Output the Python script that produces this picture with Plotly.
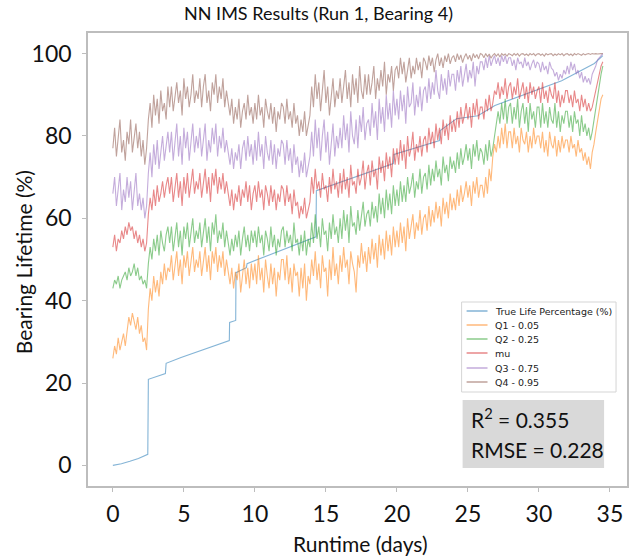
import plotly.graph_objects as go

# ---------------- data ----------------
# sampling grid of the prediction series (days)
days = [i * 0.125 for i in range(277)]  # 0 .. 34.5

q1_005 = [
    26, 29, 27, 31, 28, 30, 32, 29, 33, 36, 34, 37, 35, 33, 36, 32,
    34, 30, 31, 28, 38, 43, 40, 46, 42, 45, 41, 47, 44, 49, 45, 48,
    47, 51, 45, 49, 52, 46, 50, 44, 51, 48, 52, 46, 49, 53, 47, 50,
    48, 52, 46, 50, 53, 47, 51, 45, 52, 49, 53, 47, 51, 48, 52, 46,
    50, 47, 44, 48, 43, 47, 45, 49, 42, 46, 50, 44, 48, 43, 49, 45,
    49, 44, 51, 45, 48, 42, 50, 46, 43, 49, 44, 48, 41, 47, 45, 50,
    50, 45, 51, 44, 48, 42, 49, 46, 47, 41, 48, 43, 49, 40, 46, 44,
    50, 46, 52, 45, 49, 43, 51, 47, 48, 41, 50, 45, 53, 46, 49, 44,
    51, 47, 53, 48, 50, 44, 52, 49, 47, 42, 51, 48, 54, 49, 52, 47,
    53, 49, 55, 50, 54, 48, 56, 51, 55, 50, 57, 52, 56, 51, 58, 53,
    57, 53, 59, 54, 58, 52, 60, 55, 58, 61, 55, 59, 57, 62, 56, 60,
    61, 57, 63, 58, 62, 59, 64, 60, 63, 58, 65, 61, 64, 60, 66, 62,
    65, 62, 67, 63, 68, 64, 66, 69, 65, 68, 63, 69, 66, 70, 65, 68,
    68, 65, 70, 66, 72, 69, 75, 78, 76, 80, 77, 82, 78, 83, 77, 81,
    81, 77, 82, 78, 80, 76, 82, 79, 78, 81, 76, 80, 77, 82, 78, 80,
    80, 77, 81, 76, 79, 75, 81, 78, 77, 80, 75, 79, 76, 80, 77, 79,
    79, 76, 80, 77, 78, 75, 79, 76, 77, 74, 76, 73, 75, 72, 76, 78,
    81, 84, 87, 89, 90,
]

q2_025 = [
    43, 45, 44, 46, 43, 45, 46, 47, 45, 48, 46, 47, 49, 46, 48, 45,
    46, 44, 45, 43, 49, 53, 50, 55, 52, 56, 51, 57, 54, 52, 56, 58,
    54, 58, 52, 56, 59, 53, 57, 51, 58, 55, 59, 53, 56, 60, 54, 57,
    55, 59, 53, 57, 60, 54, 58, 52, 59, 56, 61, 54, 57, 55, 59, 53,
    57, 54, 51, 55, 52, 56, 53, 57, 51, 55, 58, 53, 56, 52, 57, 54,
    57, 53, 58, 54, 56, 51, 57, 55, 52, 58, 53, 56, 51, 55, 53, 57,
    58, 53, 57, 54, 56, 52, 59, 54, 55, 51, 56, 52, 57, 51, 55, 53,
    59, 54, 61, 55, 58, 53, 60, 56, 57, 52, 59, 55, 61, 56, 58, 54,
    60, 55, 62, 57, 61, 54, 63, 58, 59, 56, 62, 57, 60, 64, 58, 61,
    62, 58, 64, 60, 63, 59, 66, 61, 65, 60, 67, 62, 66, 61, 68, 63,
    67, 63, 69, 64, 68, 64, 70, 66, 68, 71, 65, 69, 67, 72, 66, 70,
    71, 67, 73, 68, 72, 69, 74, 70, 72, 68, 75, 71, 73, 69, 75, 72,
    74, 71, 76, 72, 77, 73, 75, 78, 74, 77, 72, 78, 75, 79, 74, 77,
    76, 73, 78, 74, 79, 75, 77, 80, 82, 86, 83, 88, 84, 89, 83, 87,
    88, 83, 87, 84, 89, 82, 86, 88, 83, 87, 81, 88, 84, 86, 82, 87,
    87, 82, 88, 83, 86, 82, 87, 84, 83, 88, 82, 86, 81, 85, 83, 86,
    86, 82, 85, 81, 86, 83, 84, 80, 85, 81, 83, 80, 82, 79, 81, 84,
    87, 90, 93, 95, 97,
]

mu = [
    53, 56, 52, 55, 54, 57, 55, 58, 56, 59, 57, 58, 55, 57, 54, 56,
    53, 55, 52, 54, 61, 65, 62, 67, 63, 68, 64, 66, 69, 65, 68, 70,
    66, 70, 64, 68, 71, 65, 69, 63, 70, 66, 71, 65, 68, 72, 66, 69,
    67, 71, 65, 69, 72, 66, 70, 64, 71, 68, 72, 66, 70, 67, 71, 66,
    69, 66, 63, 67, 62, 66, 64, 68, 63, 67, 65, 69, 64, 68, 62, 66,
    68, 64, 69, 65, 67, 62, 68, 66, 63, 68, 64, 67, 62, 66, 64, 68,
    67, 63, 68, 64, 66, 61, 67, 63, 64, 60, 63, 61, 65, 60, 62, 64,
    70, 66, 72, 67, 69, 65, 71, 67, 68, 64, 70, 66, 72, 67, 69, 65,
    71, 66, 72, 67, 70, 65, 73, 68, 69, 66, 72, 68, 70, 74, 67, 71,
    73, 68, 74, 70, 72, 67, 75, 71, 74, 69, 76, 72, 75, 70, 77, 73,
    77, 73, 79, 74, 78, 72, 80, 75, 77, 81, 74, 78, 76, 80, 75, 79,
    80, 76, 82, 78, 81, 77, 83, 79, 82, 78, 84, 80, 83, 79, 85, 81,
    84, 81, 86, 82, 87, 83, 85, 88, 84, 87, 82, 88, 85, 89, 84, 87,
    87, 84, 89, 86, 90, 86, 88, 91, 90, 93, 89, 92, 90, 94, 89, 92,
    93, 89, 92, 90, 94, 89, 91, 93, 89, 92, 88, 93, 90, 92, 89, 91,
    92, 88, 93, 89, 91, 88, 92, 90, 89, 93, 88, 91, 87, 90, 88, 91,
    91, 88, 90, 87, 91, 88, 89, 86, 90, 87, 89, 86, 88, 86, 87, 89,
    91, 93, 95, 97, 98,
]

q3_075 = [
    66, 70, 63, 68, 71, 62, 67, 64, 70, 65, 69, 62, 67, 71, 63, 66,
    62, 65, 60, 63, 71, 76, 70, 78, 73, 79, 72, 77, 80, 74, 78, 81,
    76, 81, 74, 79, 83, 75, 80, 73, 82, 77, 81, 74, 79, 83, 76, 80,
    77, 82, 75, 80, 83, 74, 79, 76, 82, 78, 83, 75, 80, 77, 82, 76,
    79, 76, 73, 77, 72, 76, 74, 78, 72, 77, 79, 74, 80, 75, 78, 73,
    79, 74, 81, 75, 78, 72, 80, 76, 74, 79, 73, 78, 72, 77, 75, 79,
    78, 73, 79, 74, 77, 71, 78, 73, 75, 70, 74, 71, 76, 70, 73, 75,
    81, 75, 84, 77, 82, 74, 80, 84, 76, 81, 73, 79, 83, 75, 80, 77,
    82, 77, 85, 79, 83, 76, 86, 80, 78, 84, 77, 85, 81, 87, 79, 83,
    84, 80, 88, 82, 86, 79, 89, 83, 87, 81, 90, 84, 88, 82, 91, 85,
    89, 84, 91, 86, 90, 83, 92, 87, 88, 93, 85, 90, 87, 92, 86, 91,
    92, 88, 94, 89, 93, 90, 96, 91, 89, 95, 91, 94, 90, 96, 92, 95,
    95, 91, 96, 93, 97, 92, 95, 97.5, 93, 96, 94, 98, 92, 97, 95, 98,
    98, 96, 99, 96.5, 99.5, 97, 98.5, 99.5, 97.5, 99, 97, 99.5, 98, 99.5, 97.5, 99,
    99, 97, 98.5, 96, 99, 97.5, 98, 96.5, 99, 97, 98, 96, 97.5, 98.5, 96.5, 98,
    97.5, 95.5, 98, 96, 97, 95, 98, 96.5, 96, 94.5, 95.5, 93.5, 95, 94, 96, 95,
    97, 95, 98, 96, 97.5, 95, 96, 94, 95.5, 93, 94.5, 93, 94, 92.5, 95, 96,
    97, 98.5, 99, 99.5, 100,
]

q4_095 = [
    77, 82, 75, 80, 84, 76, 79, 74, 81, 78, 84, 76, 80, 83, 77, 81,
    75, 79, 73, 77, 84, 88, 82, 90, 85, 89, 83, 91, 86, 88, 84, 92,
    87, 92, 86, 90, 93, 88, 91, 85, 94, 89, 92, 87, 90, 95, 88, 91,
    89, 94, 87, 92, 95, 88, 91, 86, 93, 90, 95, 88, 92, 89, 94, 87,
    91, 88, 85, 89, 83, 87, 84, 89, 82, 86, 88, 84, 90, 85, 87, 83,
    88, 84, 90, 85, 87, 82, 89, 86, 84, 88, 83, 87, 81, 86, 84, 88,
    87, 83, 89, 84, 86, 82, 88, 83, 85, 80, 84, 81, 86, 80, 83, 85,
    92, 87, 95, 89, 93, 86, 91, 96, 88, 92, 85, 90, 94, 87, 91, 89,
    94, 88, 92, 96, 89, 93, 87, 95, 90, 94, 88, 97, 91, 89, 95, 90,
    95, 90, 93, 97, 89, 94, 91, 96, 92, 98, 90, 95, 93, 97, 91, 96,
    97, 94, 99, 95, 98, 93, 96, 99, 94, 97, 95, 99, 96, 98, 94, 99,
    98, 96, 99.5, 97, 99, 95.5, 98.5, 100, 97, 99, 96.5, 99.5, 98, 100, 97.5, 99,
    99.5, 98, 100, 98.5, 99.7, 97.8, 99.2, 100, 98.6, 99.6, 98.2, 100, 99, 99.8, 98.7, 100,
    99.8, 99, 100, 99.3, 99.9, 98.9, 99.6, 100, 99.4, 99.9, 99.2, 100, 99.6, 99.9, 99.4, 100,
    99.8, 99.5, 100, 99.6, 100, 99.4, 99.9, 100, 99.6, 99.9, 99.5, 100, 99.7, 100, 99.5, 99.9,
    100, 99.6, 99.9, 99.4, 100, 99.7, 99.9, 100, 99.5, 99.9, 99.6, 100, 99.7, 100, 99.5, 99.9,
    100, 99.6, 99.9, 99.5, 100, 99.7, 100, 99.8, 99.6, 100, 99.7, 99.9, 100, 99.8, 100, 99.9,
    100, 99.9, 100, 100, 100,
]

true_days = [0, 0.6, 1.2, 1.8, 2.46, 2.5, 3.7, 3.75, 4.8, 8.2, 8.22, 8.65,
             8.67, 9.4, 9.45, 14.3, 14.33, 19.75, 19.8, 23.0, 23.05, 24.2,
             25.7, 26.9, 31.6, 33.9, 34.5]
true_life = [0, 0.4, 1.0, 1.7, 2.7, 20.9, 22.3, 24.8, 26.2, 30.3, 34.7, 35.2,
             46.8, 48.0, 49.0, 55.5, 66.7, 73.3, 75.5, 78.9, 81.3, 84.2,
             84.9, 87.4, 93.4, 97.6, 99.5]

series = [
    ("True Life Percentage (%)", true_days, true_life, "rgba(31,119,180,0.55)"),
    ("Q1 - 0.05", days, q1_005, "rgba(255,127,14,0.55)"),
    ("Q2 - 0.25", days, q2_025, "rgba(44,160,44,0.55)"),
    ("mu", days, mu, "rgba(214,39,40,0.55)"),
    ("Q3 - 0.75", days, q3_075, "rgba(148,103,189,0.55)"),
    ("Q4 - 0.95", days, q4_095, "rgba(140,86,75,0.55)"),
]

x_ticks = [0, 5, 10, 15, 20, 25, 30, 35]
y_ticks = [0, 20, 40, 60, 80, 100]

r2_value = "0.355"
rmse_value = "0.228"

# ---------------- figure ----------------
FONT = "Lato"
L, R, T, B = 88, 629, 33, 486          # plot area in pixels
PW, PH = R - L, B - T


def px(xp):
    return (xp - L) / PW


def py(yp):
    return (B - yp) / PH


fig = go.Figure()
for name, xs, ys, col in series:
    fig.add_trace(go.Scatter(x=xs, y=ys, mode="lines", name=name,
                             line=dict(color=col, width=1.1)))

fig.update_layout(
    width=637, height=558,
    margin=dict(l=L, r=637 - R, t=T, b=558 - B),
    paper_bgcolor="white", plot_bgcolor="white",
    showlegend=False,
    title=dict(text="NN IMS Results (Run 1, Bearing 4)", x=0.5, xanchor="center",
               y=1 - 14 / 558, yanchor="middle",
               font=dict(family=FONT, size=18, color="#111111")),
    font=dict(family=FONT, color="#111111"),
)

fig.update_xaxes(range=[-1.75, 36.2], tickvals=x_ticks, ticktext=[str(t) for t in x_ticks],
                 showgrid=False, zeroline=False, showline=True, mirror=True,
                 linecolor="#bdbdbd", linewidth=1.5, ticks="outside", ticklen=4,
                 tickcolor="#bdbdbd", tickfont=dict(family=FONT, size=23, color="#111111"),
                 ticklabelstandoff=3)
fig.update_yaxes(range=[-5, 105], tickvals=y_ticks, ticktext=[str(t) for t in y_ticks],
                 showgrid=False, zeroline=False, showline=True, mirror=True,
                 linecolor="#bdbdbd", linewidth=1.5, ticks="outside", ticklen=4,
                 tickcolor="#bdbdbd", tickfont=dict(family=FONT, size=23, color="#111111"),
                 ticklabelstandoff=6)

# axis titles
fig.add_annotation(text="Runtime (days)", xref="paper", yref="paper",
                   x=px(362), y=py(543), showarrow=False,
                   xanchor="center", yanchor="middle",
                   font=dict(family=FONT, size=21, color="#111111"))
fig.add_annotation(text="Bearing Lifetime (%)", xref="paper", yref="paper",
                   x=px(23), y=py(262), showarrow=False,
                   textangle=-90, xanchor="center", yanchor="middle",
                   font=dict(family=FONT, size=21, color="#111111"))

# legend (drawn as a small box of line samples and labels)
fig.add_shape(type="rect", xref="paper", yref="paper",
              x0=px(463), x1=px(618), y0=py(392), y1=py(302),
              fillcolor="white", line=dict(color="#d5d5d5", width=1), layer="above")
leg_y = [311, 325, 339, 353, 368, 382]
for (name, _, _, col), yy in zip(series, leg_y):
    fig.add_shape(type="line", xref="paper", yref="paper",
                  x0=px(468), x1=px(489), y0=py(yy), y1=py(yy),
                  line=dict(color=col, width=1.5), layer="above")
    fig.add_annotation(text=name, xref="paper", yref="paper",
                       x=px(495), y=py(yy), showarrow=False,
                       xanchor="left", yanchor="middle",
                       font=dict(family="DejaVu Sans", size=9.5, color="#222222"))

# metrics box
fig.add_shape(type="rect", xref="paper", yref="paper",
              x0=px(464), x1=px(606), y0=py(468), y1=py(400),
              fillcolor="#d9d9d9", line=dict(width=0), layer="above")
fig.add_annotation(text=f"R<sup>2</sup> = {r2_value}", xref="paper", yref="paper",
                   x=px(470), y=py(418), showarrow=False,
                   xanchor="left", yanchor="middle", align="left",
                   font=dict(family=FONT, size=21, color="#111111"))
fig.add_annotation(text=f"RMSE = {rmse_value}", xref="paper", yref="paper",
                   x=px(470), y=py(449), showarrow=False,
                   xanchor="left", yanchor="middle", align="left",
                   font=dict(family=FONT, size=21, color="#111111"))

fig.write_html("out.html")
